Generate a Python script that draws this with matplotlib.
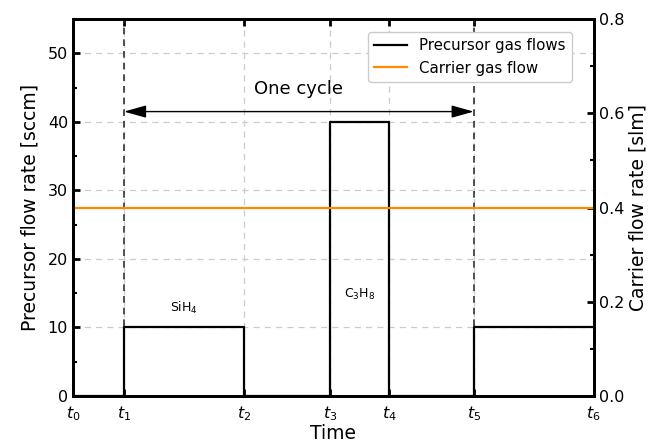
import matplotlib
matplotlib.use("Agg")
import matplotlib.pyplot as plt
import numpy as np

# Data
t_ticks = [0, 1, 3.35, 5.03, 6.19, 7.85, 10.2]
t_labels = [r"$t_0$", r"$t_1$", r"$t_2$", r"$t_3$", r"$t_4$", r"$t_5$", r"$t_6$"]
precursor_t = [0, 1, 3.35, 5.03, 6.19, 7.85, 10.2]
precursor_flow = [0, 10, 0, 40, 0, 10, 10]
carrier_flow = 0.4  # slm

fig = plt.figure(figsize=(6.51, 4.43), dpi=100)
ax = fig.add_axes([0.112, 0.106, 0.8, 0.851])
ax2 = ax.twinx()

ax.set_xlim(0, 10.2)
ax.set_ylim(0, 55)
ax2.set_ylim(0, 0.8)

ax.set_xticks(t_ticks)
ax.set_xticklabels(t_labels, fontsize=12.5)
ax.set_yticks(np.arange(0, 51, 10))
ax.set_yticks(np.arange(0, 56, 5), minor=True)
ax2.set_yticks(np.arange(0, 0.81, 0.2))
ax2.set_yticks(np.arange(0, 0.81, 0.1), minor=True)
ax2.set_yticklabels(["0.0", "0.2", "0.4", "0.6", "0.8"])

ax.grid(True, which="major", linestyle=(0, (5, 4)), color="#cccccc", linewidth=0.9)
ax.set_axisbelow(True)

for a in (ax, ax2):
    for s in a.spines.values():
        s.set_linewidth(2)
    a.tick_params(direction="in", width=2, length=5, labelsize=11.5)
    a.tick_params(which="minor", direction="in", width=1.5, length=3)
ax.tick_params(axis="x", top=True, pad=6)
ax.tick_params(axis="y", right=False)
ax.tick_params(axis="y", which="minor", right=False)

# dashed cycle boundaries
for tv in (t_ticks[1], t_ticks[5]):
    ax.axvline(tv, color="#333333", linestyle=(0, (4, 3)), linewidth=1.2)

l1, = ax.plot(precursor_t, precursor_flow, drawstyle="steps-post", color="black", lw=1.6,
              label="Precursor gas flows")
l2, = ax2.plot([0, 10.2], [carrier_flow, carrier_flow], color="darkorange", lw=1.6,
               label="Carrier gas flow")

ax.annotate("", xy=(t_ticks[1], 41.5), xytext=(t_ticks[5], 41.5),
            arrowprops=dict(arrowstyle="<|-|>,head_length=0.68,head_width=0.19",
                            color="black", lw=1.0, mutation_scale=20,
                            shrinkA=0, shrinkB=0))
ax.text((t_ticks[1] + t_ticks[5]) / 2, 44.8, "One cycle", ha="center", va="center", fontsize=13)
ax.text((t_ticks[1] + t_ticks[2]) / 2, 12.8, r"SiH$_4$", ha="center", va="center", fontsize=9)
ax.text((t_ticks[3] + t_ticks[4]) / 2, 14.8, r"C$_3$H$_8$", ha="center", va="center", fontsize=9)

ax.set_xlabel("Time", fontsize=13.5, labelpad=1)
ax.set_ylabel("Precursor flow rate [sccm]", fontsize=13.5, labelpad=6)
ax2.set_ylabel("Carrier flow rate [slm]", fontsize=13.5, labelpad=3)

ax2.legend(handles=[l1, l2], loc="upper right", fontsize=10.8, bbox_to_anchor=(0.972, 0.985),
           framealpha=1, handlelength=2.2)

fig.savefig("out.png", dpi=100)
